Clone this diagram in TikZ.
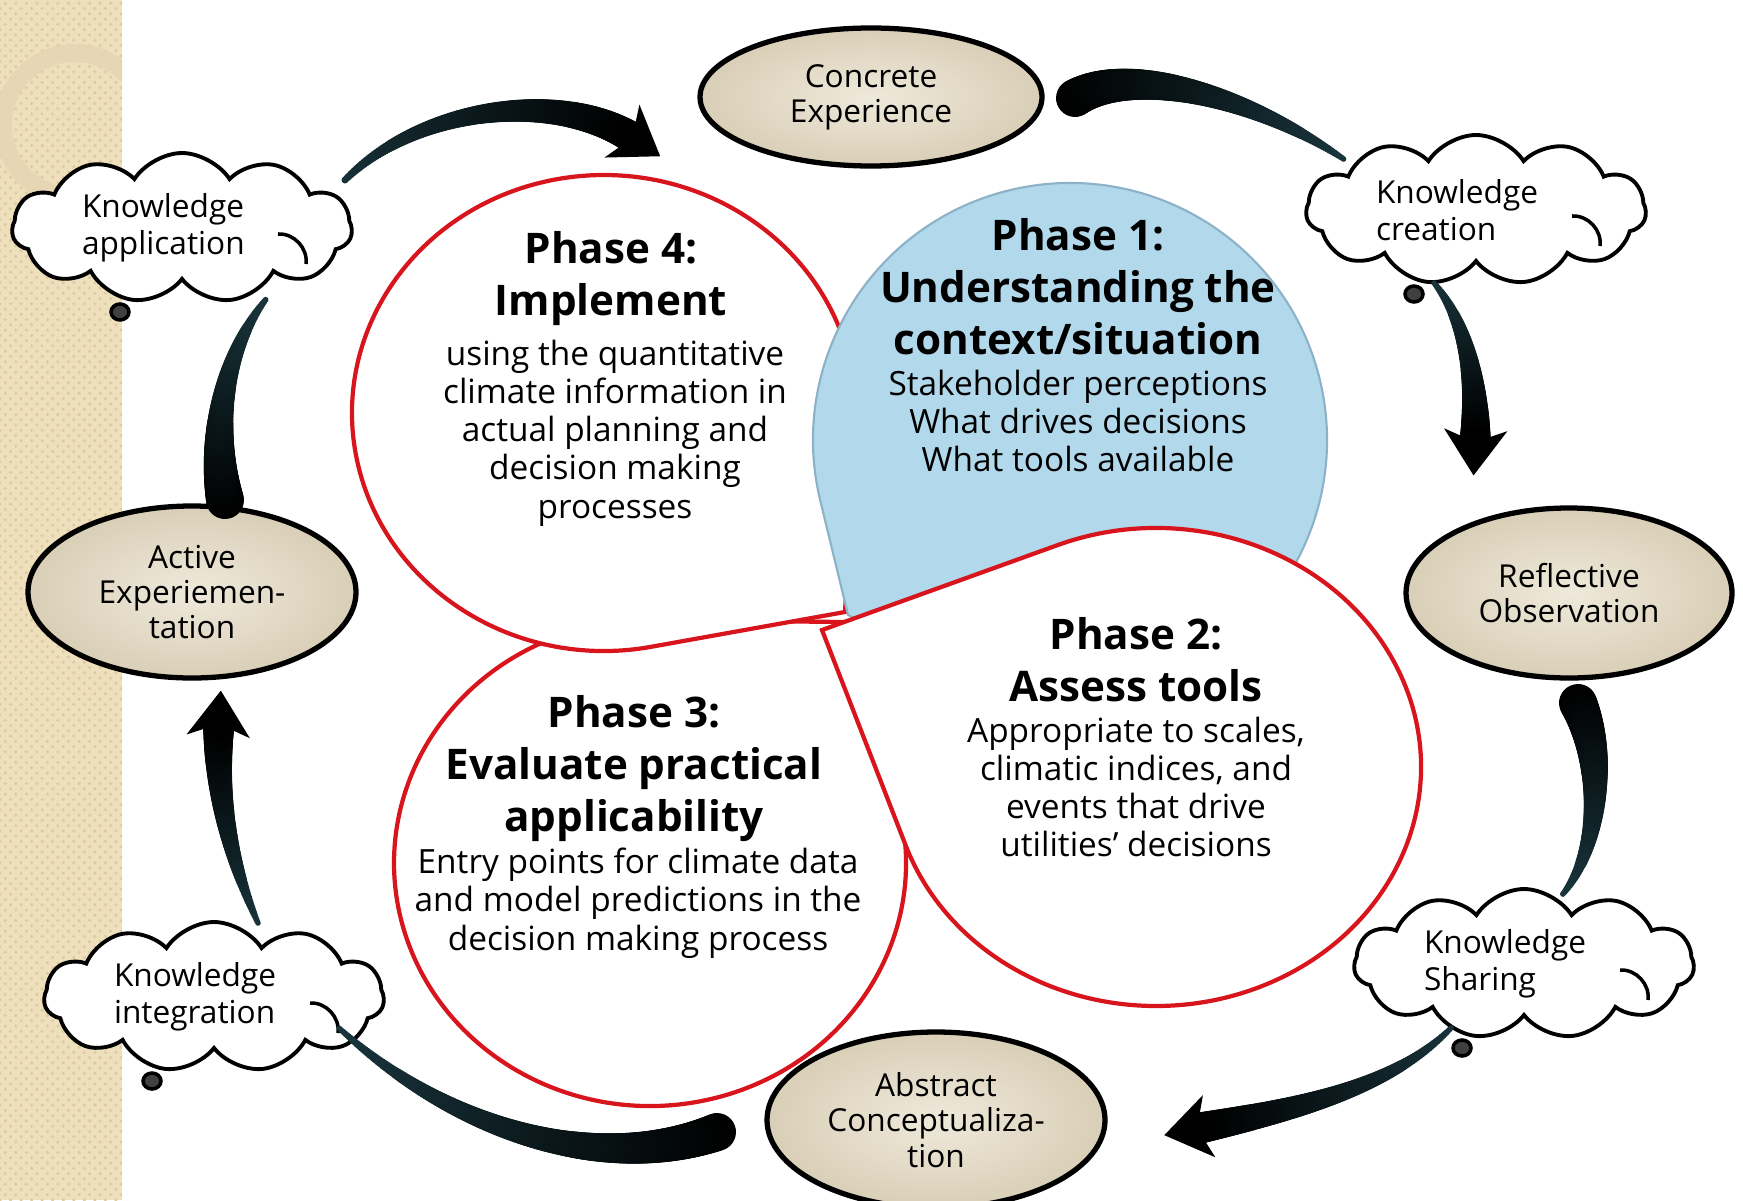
\documentclass[tikz,border=0pt]{standalone}
\usepackage{fontspec}
\setmainfont{Open Sans}
\usetikzlibrary{arrows.meta, calc, shapes.geometric, shapes.symbols, decorations.markings, patterns}
\definecolor{stripbeige}{HTML}{EEDFBD}
\definecolor{stripdot}{HTML}{DFCBA0}
\definecolor{ringbeige}{HTML}{E6D6B3}
\definecolor{stagein}{HTML}{EFE9DB}
\definecolor{stageout}{HTML}{D9CFB7}
\definecolor{phasered}{HTML}{D8141C}
\definecolor{phaseblue}{HTML}{B2D8EB}
\definecolor{phaseline}{HTML}{8DB2C8}
\definecolor{arrowteal}{HTML}{2A5A66}
\tikzset{%
	stage/.style={
		ellipse,
		draw=black,
		line width=1.5pt,
		inner color=stagein,
		outer color=stageout,
		align=center,
		inner sep=0pt,
		font=\fontsize{9}{10}\selectfont
	},
	knowledge/.style={
		cloud, cloud puffs=11, cloud puff arc=115, cloud ignores aspect,
		draw=black,
		line width=1.1pt,
		fill=white,
		minimum width=34mm,
		minimum height=15mm,
		text width=20mm,
		align=left,
		inner sep=0pt,
		font=\fontsize{9}{10.5}\selectfont
	},
	phase/.style={draw=phasered, line width=1.2pt, fill=white},
	phase title/.style={align=center, inner sep=0pt, font=\fontsize{12}{14.8}\selectfont\bfseries},
	phase body/.style={align=center, inner sep=0pt, font=\fontsize{9.5}{10.9}\selectfont},
	taper/.style 2 args={postaction={decorate, decoration={markings,
		mark=between positions 0 and 1 step 0.6pt with {%
			\pgfmathsetmacro\tw{#1+(#2-#1)*\pgfkeysvalueof{/pgf/decoration/mark info/distance from start}/\pgfdecoratedpathlength}%
			\pgfmathsetmacro\tp{min(100,30+70*\tw/max(#1,#2))}%
			\fill[black!\tp!arrowteal] (0,0) circle (\tw pt);}}}},
	head/.style={postaction={decorate, decoration={markings,
		mark=at position 0.999 with {\pgftransformxshift{9pt}\arrow[black]{Stealth[length=13pt,width=18pt,inset=3.5pt]}}}}},
}

\begin{document}
\begin{tikzpicture}[x=0.1mm, y=-0.1mm]
	\useasboundingbox (0,0) rectangle (1743,1200);
	\fill[white] (0,0) rectangle (1743,1200);
	
	% beige strip on the left
	\fill[stripbeige] (0,0) rectangle (122,1200);
	\fill[pattern=crosshatch dots, pattern color=stripdot] (0,0) rectangle (122,1200);
	\begin{scope}
		\clip (0,0) rectangle (122,1200);
		\draw[ringbeige, line width=5pt] (75,125) circle (72);
	\end{scope}
	
	% the four phases, back to front
	\path[phase] (845,622) -- ($(650,863)+(-15.6:256 and 243)$) arc[start angle=-15.6, end angle=270.6, x radius=256, y radius=243] -- cycle;
	\path[phase] (845,612) -- ($(604,413)+(79.3:252 and 238)$) arc[start angle=79.3, end angle=363.1, x radius=252, y radius=238] -- cycle;
	\path[draw=phaseline, line width=0.6pt, fill=phaseblue] (848,615) -- ($(1070,440)+(166.4:257 and 257)$) arc[start angle=166.4, end angle=477.2, x radius=257, y radius=257] -- cycle;
	\path[phase] (822,630) -- ($(1156,767)+(248.2:265 and 239)$) arc[start angle=248.2, end angle=520.8, x radius=265, y radius=239] -- cycle;
	
	\node[phase title] (T4) at (611,279) {Phase 4:\\Implement};
	\node[phase body] (B4) at (615,433) {using the quantitative\\climate information in\\actual planning and\\decision making\\processes};
	\node[phase title] (T1) at (1078,287) {Phase 1:\\Understanding the\\context/situation};
	\node[phase body] (B1) at (1078,421) {Stakeholder perceptions\\What drives decisions\\What tools available};
	\node[phase title] (T2) at (1136,660) {Phase 2:\\Assess tools};
	\node[phase body] (B2) at (1136,787) {Appropriate to scales,\\climatic indices, and\\events that drive\\utilities' decisions};
	\node[phase title] (T3) at (634,769) {Phase 3:\\Evaluate practical\\applicability};
	\node[phase body] (B3) at (638,903) {Entry points for climate data\\and model predictions in the\\decision making process};
	
	% learning cycle
	\node[stage, minimum width=34.2mm, minimum height=13.8mm] (CE) at (871,97) {Concrete\\Experience};
	\node[stage, minimum width=32.6mm, minimum height=17mm] (RO) at (1569,593) {Reflective\\Observation};
	\node[stage, minimum width=33.8mm, minimum height=17.6mm] (AC) at (936,1120) {Abstract\\Conceptualiza-\\tion};
	\node[stage, minimum width=32.8mm, minimum height=17.2mm] (AE) at (192,592) {Active\\Experiemen-\\tation};
	
	\node[knowledge] (KA) at (182,228) {Knowledge\\application};
	\node[knowledge] (KC) at (1476,210) {Knowledge\\creation};
	\node[knowledge] (KS) at (1524,964) {Knowledge\\Sharing};
	\node[knowledge] (KI) at (214,997) {Knowledge\\integration};
	
	% hooks and bubbles of the clouds
	\foreach \k in {KA,KC,KS,KI} {
		\draw[line width=1pt] ($(\k.center)+(96,6)$) to[bend left=50] ($(\k.center)+(124,36)$);
		\filldraw[line width=1pt, fill=black!75] ($(\k.center)+(-62,84)$) ellipse[x radius=9, y radius=8];
	}
	
	% curved arrows
	\path[taper={1}{4.5}, head] ($(KA.center)+(163,-48)$) .. controls +(75,-75) and +(-74,-49) .. ($(CE.center)+(-237,42)$);
	\path[taper={5.4}{0.8}] ($(CE.center)+(204,1)$) .. controls +(55,-33) and +(-95,-65) .. ($(KC.center)+(-131,-50)$);
	\path[taper={0.8}{4.5}, head] ($(KC.center)+(-42,73)$) .. controls +(31,37) and +(3,-64) .. ($(RO.center)+(-94,-149)$);
	\path[taper={5.4}{0.8}] ($(RO.center)+(9,110)$) .. controls +(27,57) and +(38,-45) .. ($(KS.center)+(38,-69)$);
	\path[taper={0.8}{4.5}, head] ($(KS.center)+(-73,64)$) .. controls +(-61,62) and +(95,-19) .. ($(AC.center)+(259,9)$);
	\path[taper={5.4}{0.8}] ($(AC.center)+(-219,12)$) .. controls +(-117,43) and +(111,102) .. ($(KI.center)+(125,31)$);
	\path[taper={0.8}{4.5}, head] ($(KI.center)+(44,-74)$) .. controls +(-28,-63) and +(-4,68) .. ($(AE.center)+(27,130)$);
	\path[taper={5.4}{0.8}] ($(AE.center)+(33,-92)$) .. controls +(-15,-70) and +(-42,52) .. ($(KA.center)+(85,70)$);
\end{tikzpicture}
\end{document}
